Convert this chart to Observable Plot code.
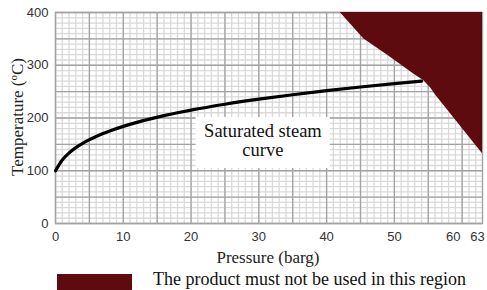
<!DOCTYPE html>
<html>
<head>
<meta charset="utf-8">
<script src="https://cdn.jsdelivr.net/npm/d3@7"></script>
<script src="https://cdn.jsdelivr.net/npm/@observablehq/plot@0.6"></script>
<style>
  html, body { margin: 0; padding: 0; background: #fff; overflow: hidden; }
  #chart svg { display: block; }
  .legend { position: relative; height: 22px; width: 487px; }
  .legend .swatch { position: absolute; left: 57px; top: 6px; width: 75px; height: 18px; background: #5e0b0f; }
  .legend .label { position: absolute; left: 153px; top: 1px; font: 18px "Liberation Serif", "Times New Roman", serif; color: #111; white-space: nowrap; line-height: 20px; }
</style>
</head>
<body>
<div id="chart"></div>
<div class="legend"><div class="swatch"></div><div class="label">The product must not be used in this region</div></div>
<script>
// Saturated steam curve (pressure in barg, temperature in °C)
const pressure = [0, 1, 2, 3, 4, 5, 6, 7, 8, 10, 12, 14, 16, 18, 20, 25, 30, 35, 40, 45, 50, 54];
const temperature = [100, 120.4, 133.7, 143.8, 152, 158.9, 165, 170.5, 175.4, 184.1, 191.7, 198.4, 204.4, 209.9, 215, 226.1, 235.7, 244.1, 251.8, 258.8, 265.2, 270];

// Forbidden region boundary (filled up to 400 °C)
const limitPressure = [42, 45.5, 49, 52.9, 54.3, 55.3, 56.1, 63];
const limitTemperature = [400, 350, 319, 283, 271, 258, 243, 132];

// Tick labels
const xTicks = [0, 10, 20, 30, 40, 50];
const xTicksEnd = [60, 63];
const yTicks = [0, 100, 200, 300, 400];

// Annotation
const annotationText = "Saturated steam\ncurve";
const annotation = {p: 30.6, t: 157.3, p1: 20.75, p2: 40.55, t1: 104.3, t2: 201};

const curve = pressure.map((p, i) => ({p, t: temperature[i]}));
const region = limitPressure.map((p, i) => ({p, t: limitTemperature[i]}));

const svg = Plot.plot({
  width: 487,
  height: 268,
  marginLeft: 55,
  marginRight: 5,
  marginTop: 12,
  marginBottom: 45,
  style: {fontFamily: "'Liberation Sans', Arial, sans-serif", fontSize: "13px", color: "#333", background: "#fff"},
  x: {domain: [0, 63]},
  y: {domain: [0, 400]},
  marks: [
    Plot.gridX(d3.range(0, 64, 1), {stroke: "#d9d9d9", strokeOpacity: 1, strokeWidth: 1.3}),
    Plot.gridY(d3.range(0, 401, 10), {stroke: "#d9d9d9", strokeOpacity: 1, strokeWidth: 1.3}),
    Plot.gridX(d3.range(0, 61, 5), {stroke: "#a3a3a3", strokeOpacity: 1, strokeWidth: 1.3}),
    Plot.gridY(d3.range(0, 401, 50), {stroke: "#a3a3a3", strokeOpacity: 1, strokeWidth: 1.3}),
    Plot.frame({stroke: "#a3a3a3", strokeWidth: 1.3}),
    Plot.rect([annotation], {x1: "p1", x2: "p2", y1: "t1", y2: "t2", fill: "#fff"}),
    Plot.text([annotation], {x: "p", y: "t", text: () => annotationText, fontFamily: "'Liberation Serif', 'Times New Roman', serif", fontSize: 18.5, lineHeight: 1, fill: "#111"}),
    Plot.line(curve, {x: "p", y: "t", curve: "monotone-x", stroke: "#000", strokeWidth: 3.2}),
    Plot.areaY(region, {x: "p", y1: "t", y2: () => 400, fill: "#5e0b0f"}),
    Plot.axisY(yTicks, {tickSize: 0, tickPadding: 7, label: null}),
    Plot.axisX(xTicks, {tickSize: 0, tickPadding: 8, label: null}),
    Plot.axisX([xTicksEnd[0]], {tickSize: 0, tickPadding: 8, label: null, dx: -9}),
    Plot.axisX([xTicksEnd[1]], {tickSize: 0, tickPadding: 8, label: null, dx: -5})
  ]
});

const s = d3.select(svg);
const yl = s.append("text")
  .attr("transform", "translate(23,117) rotate(-90)")
  .attr("text-anchor", "middle")
  .attr("fill", "#222")
  .style("font", "17px 'Liberation Serif', 'Times New Roman', serif");
yl.append("tspan").text("Temperature (");
yl.append("tspan").attr("dy", -6).style("font-size", "11px").text("o");
yl.append("tspan").attr("dy", 6).text("C)");

s.append("text")
  .attr("x", 268)
  .attr("y", 263)
  .attr("text-anchor", "middle")
  .attr("fill", "#222")
  .style("font", "17px 'Liberation Serif', 'Times New Roman', serif")
  .text("Pressure (barg)");

document.getElementById("chart").appendChild(svg);
</script>
</body>
</html>
